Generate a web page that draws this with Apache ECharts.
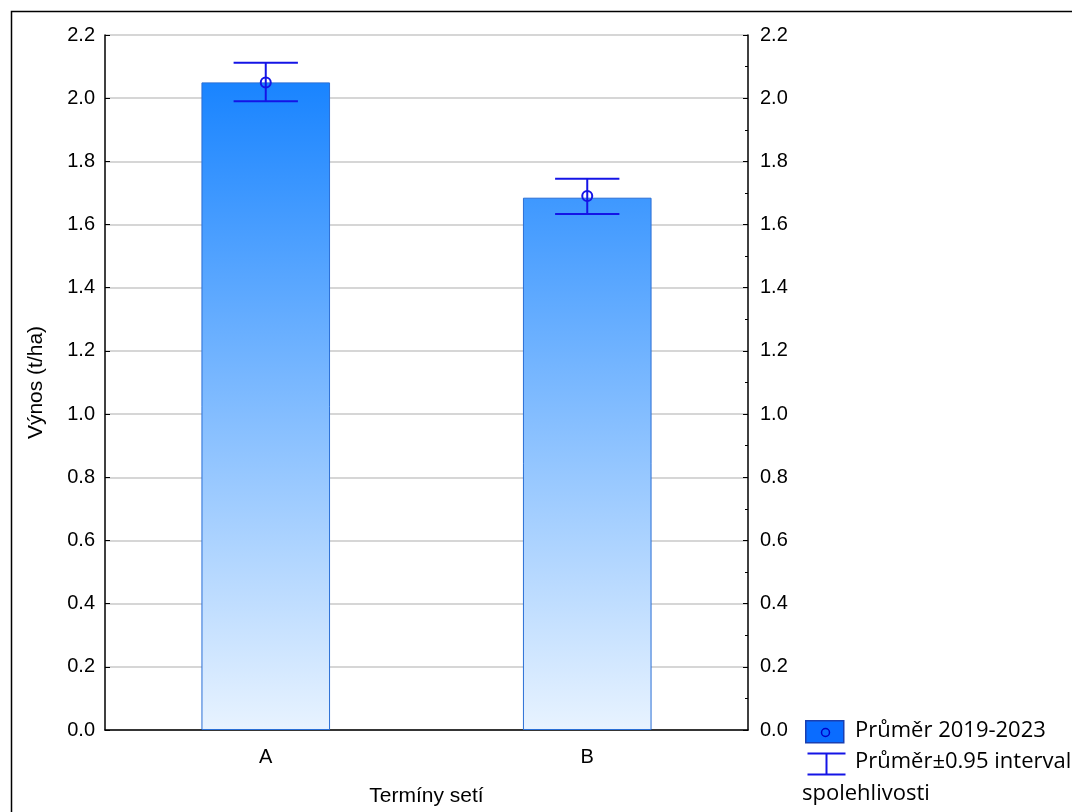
<!DOCTYPE html>
<html>
  <head>
    <meta charset="utf-8" />
    <title>Výnos podle termínu setí</title>
    <script src="https://cdn.jsdelivr.net/npm/echarts@6/dist/echarts.min.js"></script>
    <style>
      html, body { margin: 0; padding: 0; background: #fff; }
    </style>
  </head>
  <body>
    <div id="main" style="width: 1072px;height: 812px;"></div>
    <script type="text/javascript">
      // data
      var categories = ['A', 'B'];
      var means = [2.05, 1.69];
      var barTops = [2.05, 1.685];
      var ciLow = [1.99, 1.633];
      var ciHigh = [2.112, 1.745];
      var legendLabels = ['Průměr 2019-2023', 'Průměr±0.95 interval', 'spolehlivosti'];

      var yMax = 2.2;
      var topColor = [10, 124, 255];
      var bottomColor = [232, 243, 255];
      var errColor = '#1414e6';
      var axisFont = 'Liberation Sans';
      var legendFont = 'Open Sans';

      function colorAt(v) {
        var t = v / yMax;
        var c = [];
        for (var i = 0; i < 3; i++) {
          c.push(Math.round(bottomColor[i] + (topColor[i] - bottomColor[i]) * t));
        }
        return 'rgb(' + c.join(',') + ')';
      }

      var barData = barTops.map(function (v) {
        return {
          value: v,
          itemStyle: {
            color: new echarts.graphic.LinearGradient(0, 0, 0, 1, [
              { offset: 0, color: colorAt(v) },
              { offset: 1, color: colorAt(0) }
            ])
          }
        };
      });

      var errData = categories.map(function (c, i) {
        return [i, means[i], ciLow[i], ciHigh[i]];
      });

      var myChart = echarts.init(document.getElementById('main'));

      var yAxisCommon = {
        type: 'value',
        min: 0,
        max: yMax,
        interval: 0.2,
        axisLine: { show: true, lineStyle: { color: '#000', width: 1.5 } },
        axisTick: { show: true, inside: true, length: 5, lineStyle: { color: '#000' } },
        axisLabel: {
          color: '#000',
          fontSize: 20,
          fontFamily: axisFont,
          formatter: function (v) { return v.toFixed(1); }
        }
      };

      var option = {
        animation: false,
        backgroundColor: '#fff',
        grid: { left: 105, right: 324, top: 35, bottom: 82, outerBoundsMode: 'none' },
        xAxis: {
          type: 'category',
          data: categories,
          name: 'Termíny setí',
          nameLocation: 'middle',
          nameGap: 56,
          nameTextStyle: { color: '#000', fontSize: 21, fontFamily: axisFont },
          axisLine: { lineStyle: { color: '#000', width: 1.5 } },
          axisTick: { show: true, inside: true, alignWithLabel: true, length: 5, lineStyle: { color: '#000' } },
          axisLabel: { color: '#000', fontSize: 20, margin: 17, fontFamily: axisFont }
        },
        yAxis: [
          Object.assign({}, yAxisCommon, {
            position: 'left',
            name: 'Výnos (t/ha)',
            nameLocation: 'middle',
            nameGap: 58,
            nameRotate: 90,
            nameTextStyle: { color: '#000', fontSize: 21, fontFamily: axisFont },
            axisLabel: Object.assign({}, yAxisCommon.axisLabel, { margin: 10 }),
            splitLine: { show: true, lineStyle: { color: '#d6d6d6', width: 2 } }
          }),
          Object.assign({}, yAxisCommon, {
            position: 'right',
            axisLabel: Object.assign({}, yAxisCommon.axisLabel, { margin: 12 }),
            minorTick: { show: true, splitNumber: 2, length: 3, lineStyle: { color: '#000' } },
            splitLine: { show: false }
          })
        ],
        series: [
          {
            type: 'bar',
            data: barData,
            barWidth: '40%',
            itemStyle: { borderColor: '#2a6fd6', borderWidth: 1 }
          },
          {
            type: 'custom',
            data: errData,
            z: 5,
            renderItem: function (params, api) {
              var x = api.value(0);
              var mid = api.coord([x, api.value(1)]);
              var lo = api.coord([x, api.value(2)]);
              var hi = api.coord([x, api.value(3)]);
              var half = api.size([1, 0])[0] * 0.1;
              var style = { stroke: errColor, lineWidth: 2, fill: null };
              return {
                type: 'group',
                children: [
                  { type: 'line', shape: { x1: lo[0], y1: lo[1], x2: hi[0], y2: hi[1] }, style: style },
                  { type: 'line', shape: { x1: hi[0] - half, y1: hi[1], x2: hi[0] + half, y2: hi[1] }, style: style },
                  { type: 'line', shape: { x1: lo[0] - half, y1: lo[1], x2: lo[0] + half, y2: lo[1] }, style: style },
                  { type: 'circle', shape: { cx: mid[0], cy: mid[1], r: 5 }, style: { stroke: errColor, lineWidth: 2, fill: null } }
                ]
              };
            }
          }
        ],
        graphic: [
          // outer frame
          { type: 'rect', left: 9, top: 9, shape: { width: 1100, height: 850 }, style: { fill: null, stroke: '#000', lineWidth: 1.5 }, silent: true },
          // legend
          { type: 'rect', left: 805, top: 720, shape: { width: 38, height: 22 }, style: { fill: '#0a6cff', stroke: '#1a3fb0', lineWidth: 1.5 } },
          { type: 'circle', left: 819, top: 726, shape: { r: 4 }, style: { fill: null, stroke: '#0000c8', lineWidth: 1.5 } },
          { type: 'text', left: 855, top: 720, style: { text: legendLabels[0], fontSize: 22, fontFamily: legendFont, fill: '#000' } },
          {
            type: 'group', left: 805, top: 751,
            children: [
              { type: 'line', shape: { x1: 0, y1: 1, x2: 38, y2: 1 }, style: { stroke: errColor, lineWidth: 2 } },
              { type: 'line', shape: { x1: 0, y1: 22, x2: 38, y2: 22 }, style: { stroke: errColor, lineWidth: 2 } },
              { type: 'line', shape: { x1: 19, y1: 1, x2: 19, y2: 22 }, style: { stroke: errColor, lineWidth: 2 } }
            ]
          },
          { type: 'text', left: 855, top: 751, style: { text: legendLabels[1], fontSize: 22, fontFamily: legendFont, fill: '#000' } },
          { type: 'text', left: 802, top: 783, style: { text: legendLabels[2], fontSize: 22, fontFamily: legendFont, fill: '#000' } }
        ]
      };

      myChart.setOption(option);
    </script>
  </body>
</html>
